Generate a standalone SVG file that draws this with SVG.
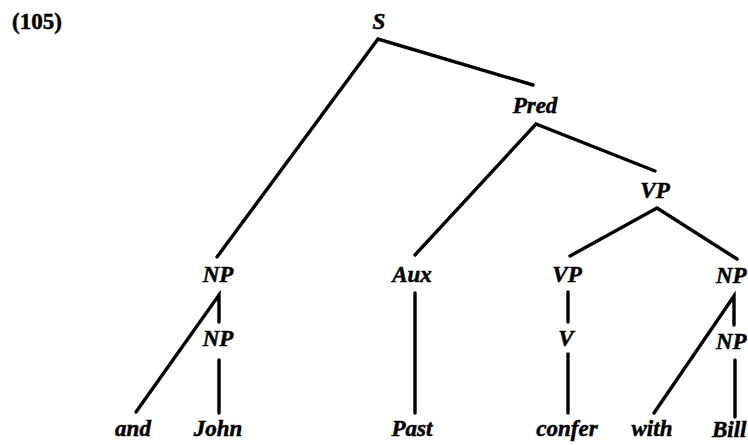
<svg xmlns="http://www.w3.org/2000/svg" width="748" height="445" viewBox="0 0 748 445">
<style>
text{font-family:"Liberation Serif","Times New Roman",serif;font-weight:bold;font-style:italic;font-size:23px;fill:#000;stroke:#000;stroke-width:0.5}
.c{text-anchor:middle}
.num{font-style:normal}
.e{stroke:#000;stroke-width:3.4;stroke-linecap:round;fill:none}
</style>
<rect width="748" height="445" fill="#fff"/>
<text class="num" x="12" y="29">(105)</text>
<g id="edges">
<path class="e" d="M217,257 L378,39 L533,85"/>
<path class="e" d="M415,255 L536,124 L655,171"/>
<path class="e" d="M570,256 L657,208 L737,259"/>
<path class="e" d="M136,412 L219,295 L219,322"/>
<path class="e" d="M219,360 L219,413"/>
<path class="e" d="M415,293 L415,413"/>
<path class="e" d="M568,292 L568,322"/>
<path class="e" d="M568,354 L568,413"/>
<path class="e" d="M654,413 L734,296 L734,325"/>
<path class="e" d="M735,360 L735,417"/>
</g>
<g id="S"><text class="c" x="379" y="29">S</text></g>
<g id="Pred"><text class="c" x="535" y="113">Pred</text></g>
<g id="VP1"><text class="c" x="655" y="198">VP</text></g>
<g id="NP1"><text class="c" x="218" y="282">NP</text></g>
<g id="Aux"><text class="c" x="412" y="282">Aux</text></g>
<g id="VP2"><text class="c" x="567" y="282">VP</text></g>
<g id="NP3"><text x="716" y="283">NP</text></g>
<g id="NP2"><text class="c" x="218" y="346">NP</text></g>
<g id="V"><text class="c" x="566" y="346">V</text></g>
<g id="NP4"><text x="716" y="349">NP</text></g>
<g id="and"><text class="c" x="133" y="436">and</text></g>
<g id="John"><text class="c" x="218" y="436">John</text></g>
<g id="Past"><text class="c" x="412" y="436">Past</text></g>
<g id="confer"><text class="c" x="567" y="436">confer</text></g>
<g id="with"><text class="c" x="652" y="436">with</text></g>
<g id="Bill"><text x="712" y="437">Bill</text></g>
</svg>
